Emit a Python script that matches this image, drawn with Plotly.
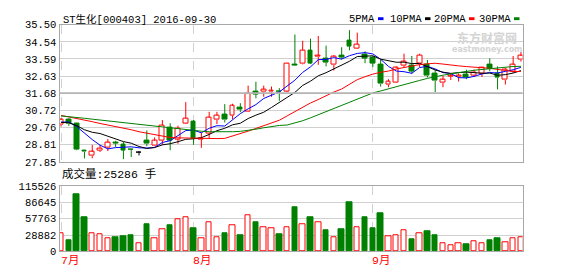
import plotly.graph_objects as go

W, H = 578, 276

title_text = "ST生化[000403] 2016-09-30"
month_labels = ["7月", "8月", "9月"]
month_start = [0, 17, 40]

price_ticks = [35.50, 34.54, 33.59, 32.63, 31.68, 30.72, 29.76, 28.81, 27.85]
vol_ticks = [0, 28882, 57763, 86645, 115526]

opens = [29.91, 30.21, 30.01, 28.48, 28.18, 28.48, 28.64, 28.90, 28.82, 28.54,
         28.34, 29.04, 28.75, 29.04, 29.75, 29.11, 30.00, 30.09, 29.10, 29.43,
         30.19, 30.50, 30.43, 30.87, 30.67, 31.77, 31.74, 31.74, 31.76, 31.78,
         33.26, 33.30, 34.03, 33.70, 33.62, 33.26, 33.75, 34.60, 34.19, 33.83,
         33.65, 33.26, 32.14, 32.28, 33.21, 33.22, 33.30, 33.26, 32.78, 32.25,
         32.62, 32.58, 32.73, 32.68, 32.78, 33.26, 32.78, 32.41, 32.90, 33.53]
highs = [30.28, 30.28, 30.03, 28.52, 28.80, 28.80, 29.12, 29.02, 28.96, 28.57,
         28.45, 29.60, 29.21, 30.18, 30.00, 29.87, 31.18, 30.18, 29.48, 30.64,
         30.64, 31.07, 31.09, 31.12, 32.10, 32.32, 32.10, 32.05, 31.96, 33.34,
         34.95, 34.60, 34.72, 34.87, 34.33, 33.80, 34.24, 35.19, 35.05, 34.01,
         33.76, 33.56, 32.46, 33.17, 33.88, 33.75, 33.88, 33.53, 32.99, 32.64,
         32.81, 32.78, 32.99, 32.99, 33.12, 33.62, 33.17, 33.08, 33.75, 33.97]
lows = [29.82, 29.86, 28.50, 28.04, 28.05, 28.40, 28.45, 28.68, 28.00, 28.12,
        28.21, 28.72, 28.72, 28.80, 28.50, 28.86, 29.98, 28.80, 28.63, 29.16,
        29.96, 30.05, 30.23, 30.62, 30.65, 31.39, 31.48, 31.48, 31.25, 31.74,
        33.22, 33.28, 33.30, 33.26, 33.17, 32.94, 33.56, 34.07, 34.17, 33.35,
        33.14, 32.05, 32.01, 32.26, 33.08, 32.76, 33.14, 32.55, 31.74, 32.01,
        32.41, 32.33, 32.46, 32.58, 32.58, 32.90, 31.89, 32.16, 32.81, 33.44]
closes = [30.18, 29.96, 28.53, 28.40, 28.40, 28.61, 28.93, 28.88, 28.50, 28.52,
          28.34, 28.86, 29.04, 29.89, 29.04, 29.73, 30.27, 29.16, 29.14, 30.32,
          30.44, 30.18, 30.98, 30.77, 31.66, 31.62, 31.89, 31.82, 31.74, 33.32,
          33.24, 34.07, 33.35, 33.76, 33.40, 33.71, 33.67, 34.30, 34.39, 33.62,
          33.35, 32.19, 32.32, 33.08, 33.44, 32.90, 33.80, 32.64, 32.37, 32.41,
          32.64, 32.67, 32.55, 32.81, 33.08, 33.03, 32.55, 33.00, 33.26, 33.75]
volumes = [31870, 18780, 100730, 60320, 31870, 30160, 23330, 25610, 27320, 29020,
           14800, 47800, 23330, 38700, 46100, 56340, 60890, 40970, 23330, 52360,
           25040, 32440, 45530, 29020, 64310, 51220, 42680, 40970, 30730, 42680,
           78530, 47800, 59760, 52360, 37560, 25610, 39270, 87070, 42680, 59760,
           40970, 68290, 27320, 29020, 37560, 22190, 32440, 35850, 27890, 14800,
           10240, 13660, 11950, 18210, 14800, 20490, 23900, 16500, 23900, 25286]

# moving-average values before a full window is available
ma5_head = [30.07, 30.07, 29.82, 29.43]
ma10_head = [30.05, 30.03, 29.87, 29.64, 29.50, 29.43, 29.28, 29.14, 28.98]
ma20_head = [30.44, 30.36, 30.26, 30.18, 30.09, 29.99, 29.91, 29.83, 29.72, 29.64,
             29.53, 29.45, 29.37, 29.27, 29.21, 29.19, 29.18, 29.16, 29.14]
ma30_head = [30.41, 30.38, 30.34, 30.28, 30.23, 30.18, 30.14, 30.10, 30.05, 30.02,
             29.96, 29.91, 29.83, 29.79, 29.75, 29.70, 29.64, 29.59, 29.56, 29.53,
             29.52, 29.52, 29.53, 29.55, 29.59, 29.67, 29.75, 29.83, 29.88]


def moving_avg(vals, n, head):
    out = list(head)
    for i in range(len(head), len(vals)):
        out.append(sum(vals[i - n + 1:i + 1]) / n)
    return out


n = len(closes)
idx = list(range(n))

RED = "#ff0000"
GREEN = "#008000"
BLACK = "#000000"
styles = {"up": (RED, "#ffffff"), "down": (GREEN, GREEN), "flat": (BLACK, BLACK)}


def kind(i):
    if closes[i] > opens[i]:
        return "up"
    if closes[i] < opens[i]:
        return "down"
    return "flat"


fig = go.Figure()

# candles
for k, (edge, fill) in styles.items():
    ids = [i for i in idx if kind(i) == k]
    if not ids:
        continue
    wx, wy = [], []
    for i in ids:
        top = max(opens[i], closes[i])
        bot = min(opens[i], closes[i])
        wx += [i, i, None, i, i, None]
        wy += [top, highs[i], None, lows[i], bot, None]
    fig.add_trace(go.Scatter(x=wx, y=wy, mode="lines", line=dict(color=edge, width=1),
                             hoverinfo="skip", showlegend=False, xaxis="x", yaxis="y"))
    fig.add_trace(go.Bar(
        x=ids,
        y=[max(abs(closes[i] - opens[i]), 0.012) for i in ids],
        base=[min(opens[i], closes[i]) for i in ids],
        width=0.62,
        marker=dict(color=fill, line=dict(color=edge, width=1)),
        showlegend=False, xaxis="x", yaxis="y"))

# moving averages
ma_defs = [(5, ma5_head, "#0000ff"), (10, ma10_head, "#000000"),
           (20, ma20_head, "#ff0000"), (30, ma30_head, "#008000")]
for w, head, col in ma_defs:
    fig.add_trace(go.Scatter(x=idx, y=moving_avg(closes, w, head), mode="lines",
                             line=dict(color=col, width=1), showlegend=False,
                             xaxis="x", yaxis="y"))

# volume
for up in (True, False):
    ids = [i for i in idx if (closes[i] >= opens[i]) == up]
    edge, fill = (RED, "#ffffff") if up else (GREEN, GREEN)
    fig.add_trace(go.Bar(x=ids, y=[volumes[i] for i in ids], width=0.7,
                         marker=dict(color=fill, line=dict(color=edge, width=1)),
                         showlegend=False, xaxis="x2", yaxis="y2"))

px = lambda v: v / W
py = lambda v: 1 - v / H

XL, XR = 59.5, 522.5
xdom = [px(XL), px(XR)]
xrange = [-0.2, 59.2]
FONT = "Liberation Mono, Noto Sans CJK SC, monospace"
frame = "#a8a8a8"
grid = "#d0d0d0"

common_x = dict(domain=xdom, range=xrange, tickvals=month_start, showticklabels=False,
                showgrid=True, gridcolor=grid, griddash="dash", gridwidth=1,
                showline=True, mirror=True, linecolor=frame, linewidth=1,
                zeroline=False, ticks="", fixedrange=True)

fig.update_layout(
    width=W, height=H, margin=dict(l=0, r=0, t=0, b=0),
    paper_bgcolor="white", plot_bgcolor="white", barmode="overlay", bargap=0,
    showlegend=False,
    xaxis=dict(anchor="y", **common_x),
    xaxis2=dict(anchor="y2", **common_x),
    yaxis=dict(domain=[py(164), py(20.5)], range=[27.85, 35.50],
               tickvals=price_ticks, ticktext=["%.2f" % v for v in price_ticks],
               showgrid=True, gridcolor=grid, gridwidth=1, showline=True, mirror=True,
               linecolor=frame, zeroline=False, ticks="",
               tickfont=dict(family=FONT, size=10.5, color="#000")),
    yaxis2=dict(domain=[py(257.5), py(189.5)], range=[0, 115526],
                tickvals=vol_ticks, ticktext=[str(v) for v in vol_ticks],
                showgrid=True, gridcolor=grid, gridwidth=1, showline=True, mirror=True,
                linecolor=frame, zeroline=False, ticks="",
                tickfont=dict(family=FONT, size=10.5, color="#000")),
)

# darker middle line
fig.add_shape(type="line", xref="paper", yref="y", x0=xdom[0], x1=xdom[1],
              y0=price_ticks[4], y1=price_ticks[4], line=dict(color="#b4b4b4", width=1.6))

ann = []
ann.append(dict(x=px(61), y=py(15), xref="paper", yref="paper", xanchor="left",
                yanchor="middle", showarrow=False, text=title_text,
                font=dict(family=FONT, size=10.5, color="#000")))
ann.append(dict(x=px(60), y=py(177), xref="paper", yref="paper", xanchor="left",
                yanchor="middle", showarrow=False,
                text="成交量:%d 手" % volumes[-1],
                font=dict(family=FONT, size=11.5, color="#000")))
scale = (XR - XL) / (xrange[1] - xrange[0])
for lab, pos in zip(month_labels, month_start):
    xpix = XL + (pos - xrange[0]) * scale - 2.5
    ann.append(dict(x=px(xpix), y=py(267), xref="paper", yref="paper", xanchor="left",
                    yanchor="middle", showarrow=False, text=lab,
                    font=dict(family=FONT, size=11.5, color=RED)))

legend_items = [("5PMA", 376.5, "#0000ff"), ("10PMA", 423.5, "#000000"),
                ("20PMA", 467.5, "#ff0000"), ("30PMA", 512.5, "#008000")]
for lab, xr, col in legend_items:
    ann.append(dict(x=px(xr), y=py(14.5), xref="paper", yref="paper", xanchor="right",
                    yanchor="middle", showarrow=False, text=lab,
                    font=dict(family=FONT, size=10.5, color="#000")))
    fig.add_shape(type="rect", xref="paper", yref="paper", x0=px(xr + 1.5),
                  x1=px(xr + 7), y0=py(15.8), y1=py(12.8), line=dict(width=0),
                  fillcolor=col)

# watermark
ann.append(dict(x=px(487), y=py(33.5), xref="paper", yref="paper", xanchor="center",
                yanchor="middle", showarrow=False, text="<b>东方财富网</b>",
                font=dict(family="Noto Sans CJK SC", size=12, color="#d4d4d4")))
ann.append(dict(x=px(487), y=py(47), xref="paper", yref="paper", xanchor="center",
                yanchor="middle", showarrow=False, text="<b>eastmoney.com</b>",
                font=dict(family="DejaVu Sans", size=8, color="#d4d4d4")))
fig.update_layout(annotations=ann)

fig.write_html("out.html")
